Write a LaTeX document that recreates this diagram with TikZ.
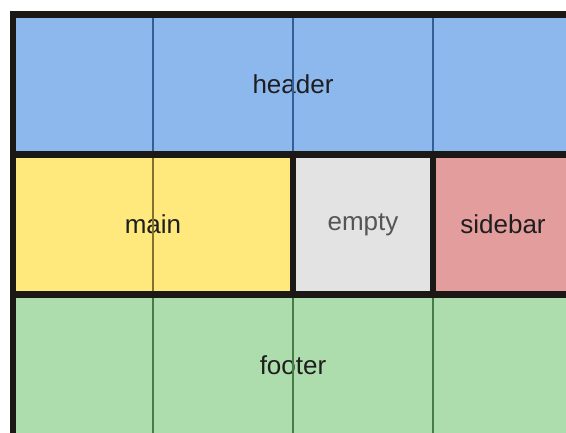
\documentclass[tikz,border=0pt]{standalone}
\usepackage{fontspec}
\setmainfont{Liberation Sans}
\definecolor{hdrc}{RGB}{141,184,238}
\definecolor{mainc}{RGB}{255,233,125}
\definecolor{emptyc}{RGB}{227,227,227}
\definecolor{sidec}{RGB}{228,157,157}
\definecolor{footc}{RGB}{173,220,173}
\definecolor{wallc}{RGB}{28,24,22}
\definecolor{hdrline}{RGB}{52,94,150}
\definecolor{mainline}{RGB}{130,115,40}
\definecolor{footline}{RGB}{70,125,70}
\definecolor{txt}{RGB}{30,30,30}
\definecolor{dimtxt}{RGB}{85,85,85}
\begin{document}
\begin{tikzpicture}[x=1pt, y=-1pt,
  area/.style={inner sep=0pt, outer sep=0pt, font=\fontsize{26}{30}\selectfont, text=txt},
  wall/.style={draw=wallc, line width=6.8pt},
  track/.style={line width=1.5pt},
]
\useasboundingbox (0,0) rectangle (566,432);
\clip (0,0) rectangle (566,432);
% --- areas ---
\node[area, fill=hdrc, minimum width=560pt, minimum height=140pt] (header) at (293,84.5) {header};
\node[area, fill=mainc, minimum width=280pt, minimum height=140pt] (main) at (153,224.5) {main};
\node[area, fill=emptyc, text=dimtxt, minimum width=140pt, minimum height=140pt] (empty) at (363,224.5) {empty};
\node[area, fill=sidec, minimum width=140pt, minimum height=140pt] (sidebar) at (503,224.5) {sidebar};
\node[area, fill=footc, text depth=6pt, minimum width=560pt, minimum height=148pt] (footer) at (293,368.5) {footer};
% --- grid tracks ---
\foreach \gx in {153,293,433} {
  \draw[track, draw=hdrline] (\gx,14.5) -- (\gx,154.5);
  \draw[track, draw=footline] (\gx,294.5) -- (\gx,442.5);
}
\draw[track, draw=mainline] (153,154.5) -- (153,294.5);
% --- area borders ---
\foreach \a in {header,main,empty,sidebar,footer}
  \draw[wall] (\a.north west) rectangle (\a.south east);
\end{tikzpicture}
\end{document}
